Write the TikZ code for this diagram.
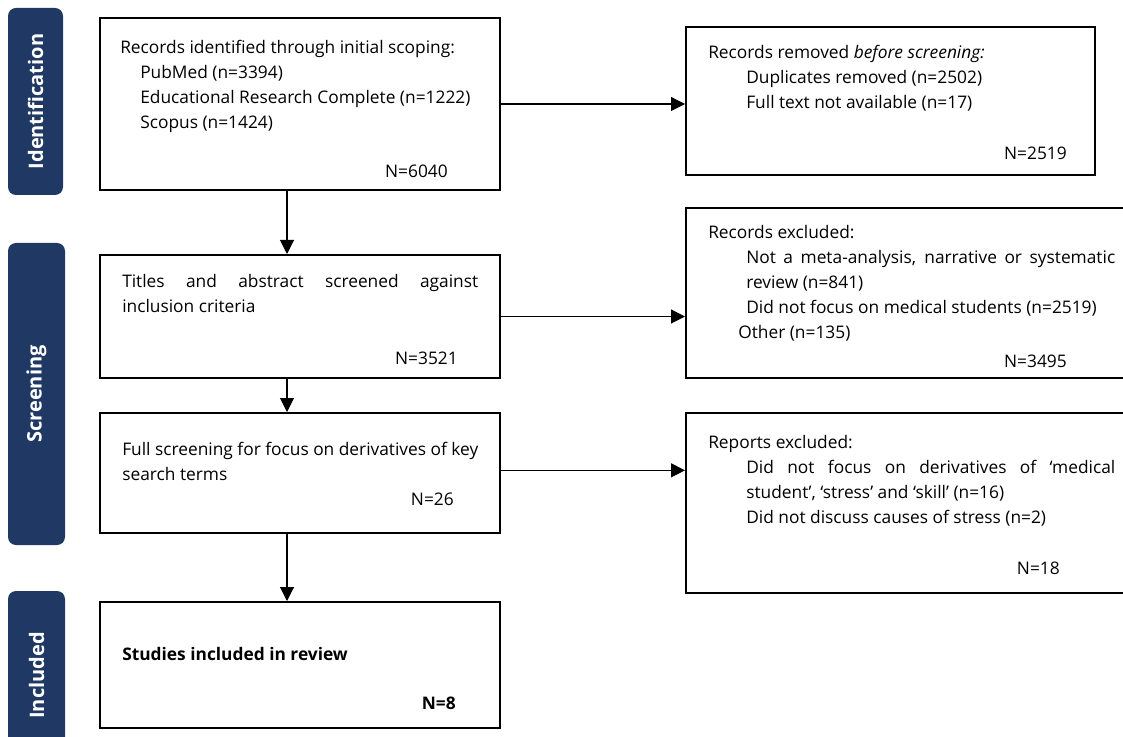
\documentclass[tikz,border=0pt]{standalone}
\usepackage{fontspec}
\setmainfont{Open Sans}
\usepackage{xcolor}
\usetikzlibrary{arrows.meta,fit,positioning}

\definecolor{stagenavy}{RGB}{31,56,100}

\tikzset{
  box/.style={draw, line width=1.5pt, fill=white, inner sep=0pt},
  stage/.style={fill=stagenavy, rounded corners=6pt, rotate=90, text=white,
    font=\bfseries\fontsize{15}{17}\selectfont, inner sep=0pt},
  txt/.style={anchor=north west, inner sep=0pt, align=left,
    font=\fontsize{13}{18.75}\selectfont},
  jtxt/.style={txt, align=justify, execute at begin node={\setlength{\parindent}{0pt}}},
  count/.style={anchor=base east, inner sep=0pt, font=\fontsize{13}{15}\selectfont},
  flow/.style={-{Triangle[length=10.5pt,width=10.5pt]}, line width=0.8pt},
}

\begin{document}
\begin{tikzpicture}[x=0.75pt, y=-0.75pt]
  \useasboundingbox (0,0) rectangle (1123,737) ; %
  \clip (0,0) rectangle (1123,737) ; %

  % stages
  \node[stage, minimum width=140.25pt, minimum height=41.25pt] (idstage) at (35.5,101.5) {Identification} ; %
  \node[stage, minimum width=226.5pt, minimum height=42.75pt] (scrstage) at (36.5,394) {Screening} ; %
  \node[stage, minimum width=126.75pt, minimum height=42.75pt] (incstage) at (36.5,675.5) {Included} ; %

  % main column
  \node[box, fit={(100,18) (500,190)}] (ident) {} ; %
  \node[box, fit={(100,255) (500,378)}] (screen) {} ; %
  \node[box, fit={(100,413) (500,533)}] (full) {} ; %
  \node[box, fit={(100,602) (500,728)}] (incl) {} ; %

  % side column
  \node[box, fit={(686,27) (1095,175)}] (removed) {} ; %
  \node[box, fit={(686,208) (1135,378)}] (excluded) {} ; %
  \node[box, fit={(686,413) (1135,593)}] (reports) {} ; %

  % texts
  \node[txt] (identtxt) at (120,40) {Records identified through initial scoping:\\
    \hspace*{15pt}PubMed (n=3394)\\
    \hspace*{15pt}Educational Research Complete (n=1222)\\
    \hspace*{15pt}Scopus (n=1424)} ; %
  \node[count] (identn) at (448,178) {N=6040} ; %

  \node[jtxt, text width=267pt] (screentxt) at (122,274) {Titles and abstract screened against\linebreak inclusion criteria\par} ; %
  \node[count] (screenn) at (458,364) {N=3521} ; %

  \node[jtxt, text width=267pt] (fulltxt) at (122,442) {Full screening for focus on derivatives of key\linebreak search terms\par} ; %
  \node[count] (fulln) at (454,505) {N=26} ; %

  \node[txt, font=\bfseries\fontsize{13}{15}\selectfont] (incltxt) at (122,647) {Studies included in review} ; %
  \node[count, font=\bfseries\fontsize{13}{15}\selectfont] (incln) at (456,709) {N=8} ; %

  \node[txt] (removedtxt) at (708,45) {Records removed \textit{before screening:}\\
    \hspace*{28.5pt}Duplicates removed (n=2502)\\
    \hspace*{28.5pt}Full text not available (n=17)} ; %
  \node[count] (removedn) at (1067,160) {N=2519} ; %

  \node[jtxt, text width=305.25pt] (excludedtxt) at (708,225) {Records excluded:\par
    \leftskip=28.5pt Not a meta-analysis, narrative or systematic\linebreak review (n=841)\par
    Did not focus on medical students (n=2519)\par
    \leftskip=22.5pt Other (n=135)\par} ; %
  \node[count] (excludedn) at (1067,368) {N=3495} ; %

  \node[jtxt, text width=305.25pt] (reportstxt) at (708,435) {Reports excluded:\par
    \leftskip=28.5pt Did not focus on derivatives of `medical\linebreak student', `stress' and `skill' (n=16)\par
    Did not discuss causes of stress (n=2)\par} ; %
  \node[count] (reportsn) at (1060,574) {N=18} ; %

  % connectors
  \draw[flow] ([xshift=-9.75pt]ident.south) -- ([xshift=-9.75pt]screen.north) ; %
  \draw[flow] ([xshift=-9.75pt]screen.south) -- ([xshift=-9.75pt]full.north) ; %
  \draw[flow] ([xshift=-9.75pt]full.south) -- ([xshift=-9.75pt]incl.north) ; %
  \draw[flow] (ident.east) -- (ident.east -| removed.west) ; %
  \draw[flow] (screen.east) -- (screen.east -| excluded.west) ; %
  \draw[flow] ([yshift=2pt]full.east) -- ([yshift=2pt]full.east -| reports.west) ; %
\end{tikzpicture}
\end{document}
